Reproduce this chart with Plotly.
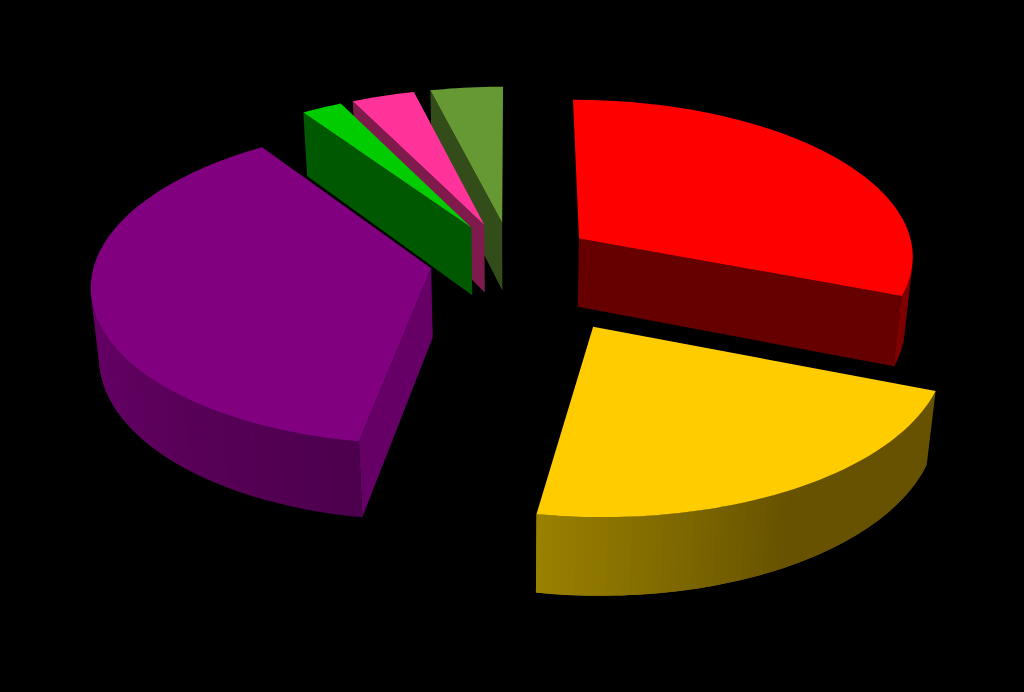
import numpy as np
import plotly.graph_objects as go

# shares in percent, clockwise from 12 o'clock
slice_names = ["red", "yellow", "purple", "green", "pink", "olive"]
slice_values = [30.9, 21.8, 37.8, 2.2, 3.4, 3.9]
slice_pull = [0.245, 0.47, 0.245, 0.245, 0.245, 0.245]

top_colors = ["#ff0000", "#ffcc00", "#800080", "#00cc00", "#ff3399", "#669933"]
face_colors = ["#660000", "#665200", "#660066", "#005800", "#7f1a4c", "#334d1a"]
wall_from = ["#660000", "#665200", "#4d004d", "#006600", "#7f1a4c", "#334d1a"]
wall_to = ["#800000", "#998000", "#800080", "#006600", "#7f1a4c", "#334d1a"]
wall_flat = [0, 0.5, 0, 0, 0, 0]

# back to front
draw_order = [5, 4, 3, 0, 2, 1]

# view settings for the tilted pie
cx, cy = 512, 260
radius = 336
squash = 0.4666
persp = 0.1
depth = 69
depth_persp = 0.13
bottom_shrink = 0.02
min_face_area = 1500


def project(u, v, z):
    w = 1 + persp * v + bottom_shrink * z
    x = cx + radius * u / w
    y = cy - radius * squash * v / w + depth * z / (1 + depth_persp * v)
    return x, y


def mix(c1, c2, t):
    a = [int(c1[i:i + 2], 16) for i in (1, 3, 5)]
    b = [int(c2[i:i + 2], 16) for i in (1, 3, 5)]
    return "rgb({},{},{})".format(*[round(p + (q - p) * t) for p, q in zip(a, b)])


def area(x, y):
    return np.sum(x * np.roll(y, -1) - np.roll(x, -1) * y) / 2


def poly(fig, x, y, color, name):
    fig.add_trace(go.Scatter(x=list(x), y=list(y), mode="none", fill="toself", fillcolor=color,
                             name=name, hoverinfo="name", showlegend=False))


fig = go.Figure()

shares = np.array(slice_values) / sum(slice_values)
edges = np.concatenate([[0], np.cumsum(shares)]) * 2 * np.pi
quad_z = np.array([0, 0, 1, 1])

for i in draw_order:
    a0, a1 = edges[i], edges[i + 1]
    mid = (a0 + a1) / 2
    ou, ov = slice_pull[i] * np.sin(mid), slice_pull[i] * np.cos(mid)
    ang = np.linspace(a0, a1, max(int((a1 - a0) * 50), 6))
    arc_u, arc_v = ou + np.sin(ang), ov + np.cos(ang)

    # cut faces, only the ones turned towards the viewer
    for a, sign in ((a0, -1), (a1, 1)):
        eu, ev = ou + np.sin(a), ov + np.cos(a)
        px, py = project(np.array([ou, eu, eu, ou]), np.array([ov, ev, ev, ov]), quad_z)
        if area(px, py) * sign > min_face_area:
            poly(fig, px, py, face_colors[i], slice_names[i])

    # outer wall in strips, each one runs under the next to hide the seams
    n = len(ang) - 1
    for k in range(n):
        t = k / (n - 1)
        t = max(0, (t - wall_flat[i]) / (1 - wall_flat[i]))
        color = mix(wall_from[i], wall_to[i], t)
        k2 = min(k + 2, n)
        us = np.array([arc_u[k], arc_u[k2], arc_u[k2], arc_u[k]])
        vs = np.array([arc_v[k], arc_v[k2], arc_v[k2], arc_v[k]])
        px, py = project(us, vs, quad_z)
        if area(px, py) < 0:
            sel = np.arange(k, k2 + 1)
            tx, ty = project(arc_u[sel], arc_v[sel], np.zeros(len(sel)))
            bx, by = project(arc_u[sel], arc_v[sel], np.ones(len(sel)))
            poly(fig, np.r_[tx, bx[::-1]], np.r_[ty, by[::-1]], color, slice_names[i])

    # top
    px, py = project(np.r_[ou, arc_u], np.r_[ov, arc_v], np.zeros(len(ang) + 1))
    poly(fig, px, py, top_colors[i], slice_names[i])

fig.update_xaxes(range=[0, 1024], visible=False, fixedrange=True)
fig.update_yaxes(range=[692, 0], visible=False, fixedrange=True)
fig.update_layout(width=1024, height=692, margin=dict(l=0, r=0, t=0, b=0),
                  paper_bgcolor="#000000", plot_bgcolor="#000000")

fig.write_html("out.html", config={"displayModeBar": False},
               post_script="document.body.style.margin='0';document.body.style.background='#000';document.documentElement.style.overflow='hidden';")
